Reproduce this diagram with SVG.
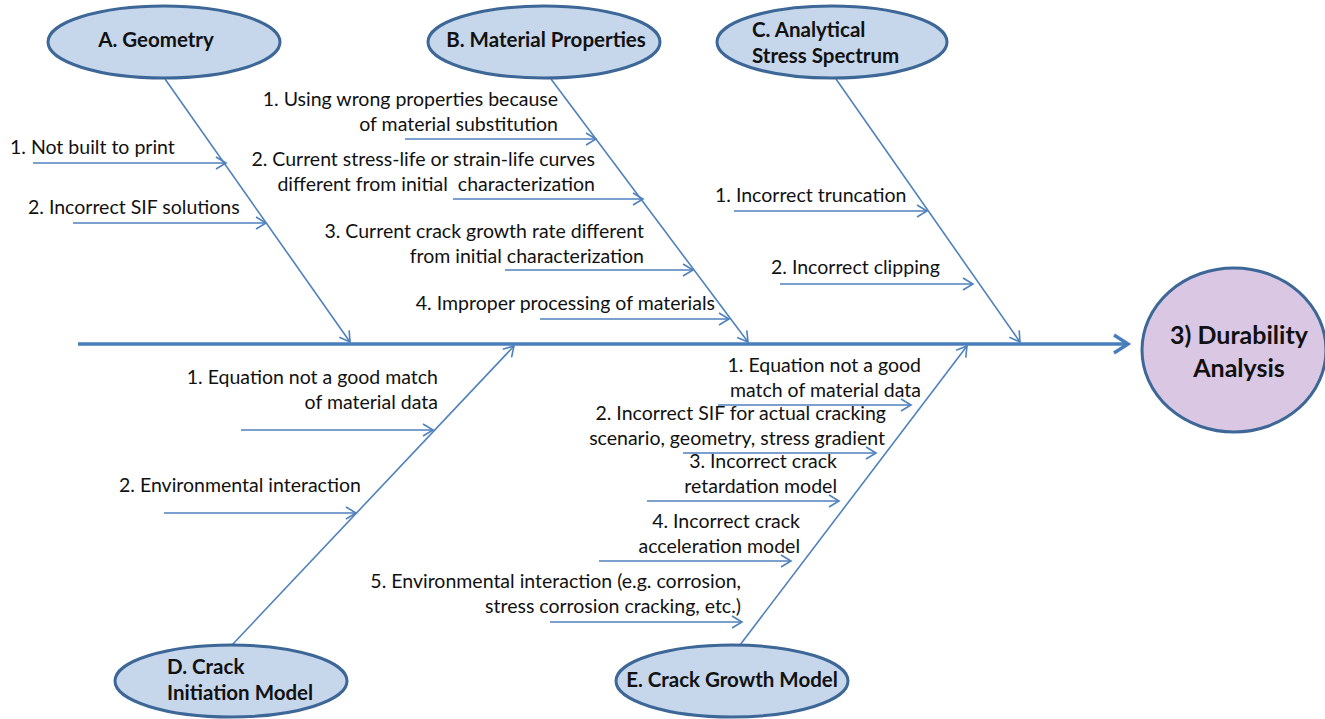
<svg xmlns="http://www.w3.org/2000/svg" width="1325" height="719" viewBox="0 0 1325 719">
<style>
.t{font-family:Lato,"Liberation Sans",sans-serif;font-size:19.5px;fill:#111}
.e{text-anchor:end}
.b{font-family:Lato,"Liberation Sans",sans-serif;font-size:20.5px;font-weight:bold;fill:#111}
.m{text-anchor:middle}
.node{fill:#c6d6eb;stroke:#3d6796;stroke-width:3}
.ln{stroke:#4f81bd;stroke-width:1.6;fill:none;marker-end:url(#ah)}
</style>
<defs>
<marker id="ah" viewBox="0 0 14 14" refX="12" refY="7" markerWidth="14" markerHeight="14" markerUnits="userSpaceOnUse" orient="auto">
<path d="M2,1 L12,7 L2,13" fill="none" stroke="#4f81bd" stroke-width="1.6"/>
</marker>
<marker id="big" viewBox="0 0 24 24" refX="20" refY="12" markerWidth="24" markerHeight="24" markerUnits="userSpaceOnUse" orient="auto">
<path d="M6,3 L20,12 L6,21" fill="none" stroke="#4a7ebb" stroke-width="3.5"/>
</marker>
</defs>
<rect width="1325" height="719" fill="#fff"/>
<g id="connectors">
<line x1="78" y1="344" x2="1128" y2="344" stroke="#4a7ebb" stroke-width="3.5" marker-end="url(#big)"/>
<line class="ln" x1="165" y1="79" x2="350" y2="342"/>
<line class="ln" x1="33" y1="163" x2="226" y2="163"/>
<line class="ln" x1="73" y1="223" x2="266" y2="223"/>
<line class="ln" x1="551" y1="79" x2="748" y2="342"/>
<line class="ln" x1="405" y1="139" x2="596" y2="139"/>
<line class="ln" x1="453" y1="199" x2="643" y2="199"/>
<line class="ln" x1="505" y1="270" x2="693" y2="270"/>
<line class="ln" x1="540" y1="319" x2="729" y2="319"/>
<line class="ln" x1="836" y1="79" x2="1020" y2="342"/>
<line class="ln" x1="734" y1="211" x2="927" y2="211"/>
<line class="ln" x1="780" y1="284" x2="973" y2="284"/>
<line class="ln" x1="232" y1="645" x2="514" y2="346"/>
<line class="ln" x1="241" y1="430" x2="433" y2="430"/>
<line class="ln" x1="164" y1="513" x2="356" y2="513"/>
<line class="ln" x1="740" y1="645" x2="967" y2="346"/>
<line class="ln" x1="718" y1="405" x2="911" y2="405"/>
<line class="ln" x1="683" y1="453" x2="876" y2="453"/>
<line class="ln" x1="647" y1="501" x2="839" y2="501"/>
<line class="ln" x1="599" y1="561" x2="791" y2="561"/>
<line class="ln" x1="550" y1="622" x2="742" y2="622"/>
</g>
<g id="labels">
<text class="t" x="10" y="154">1. Not built to print</text>
<text class="t" x="28" y="214">2. Incorrect SIF solutions</text>
<text class="t e" x="558" y="106">1. Using wrong properties because</text>
<text class="t e" x="558" y="131">of material substitution</text>
<text class="t e" x="595" y="166">2. Current stress-life or strain-life curves</text>
<text class="t e" x="595" y="191" xml:space="preserve">different from initial  characterization</text>
<text class="t e" x="644" y="238">3. Current crack growth rate different</text>
<text class="t e" x="644" y="263">from initial characterization</text>
<text class="t e" x="715" y="310">4. Improper processing of materials</text>
<text class="t" x="715" y="202">1. Incorrect truncation</text>
<text class="t" x="771" y="274">2. Incorrect clipping</text>
<text class="t e" x="438" y="384">1. Equation not a good match</text>
<text class="t e" x="438" y="409">of material data</text>
<text class="t" x="119" y="492">2. Environmental interaction</text>
<text class="t e" x="921" y="372">1. Equation not a good</text>
<text class="t e" x="921" y="397">match of material data</text>
<text class="t e" x="886" y="420">2. Incorrect SIF for actual cracking</text>
<text class="t e" x="885" y="445">scenario, geometry, stress gradient</text>
<text class="t e" x="837" y="468">3. Incorrect crack</text>
<text class="t e" x="837" y="493">retardation model</text>
<text class="t e" x="800" y="528">4. Incorrect crack</text>
<text class="t e" x="800" y="553">acceleration model</text>
<text class="t e" x="741" y="588">5. Environmental interaction (e.g. corrosion,</text>
<text class="t e" x="741" y="613">stress corrosion cracking, etc.)</text>
</g>
<g id="nodeA">
<ellipse class="node" cx="164" cy="42" rx="116" ry="36"/>
<text class="b m" x="156" y="47">A. Geometry</text>
</g>
<g id="nodeB">
<ellipse class="node" cx="544" cy="42" rx="116" ry="36"/>
<text class="b m" x="546" y="47">B. Material Properties</text>
</g>
<g id="nodeC">
<ellipse class="node" cx="832" cy="42" rx="115" ry="36"/>
<text class="b" x="752" y="37">C. Analytical</text>
<text class="b" x="752" y="63">Stress Spectrum</text>
</g>
<g id="nodeD">
<ellipse class="node" cx="231" cy="681" rx="116" ry="36"/>
<text class="b" x="167" y="674">D. Crack</text>
<text class="b" x="167" y="700">Initiation Model</text>
</g>
<g id="nodeE">
<ellipse class="node" cx="732" cy="681" rx="116" ry="36"/>
<text class="b m" x="732" y="687">E. Crack Growth Model</text>
</g>
<g id="nodeOut">
<ellipse cx="1234" cy="350" rx="92" ry="82" fill="#d9c7e3" stroke="#3d6796" stroke-width="3"/>
<text class="b m" x="1239" y="344" style="font-size:25px">3) Durability</text>
<text class="b m" x="1239" y="377" style="font-size:25px">Analysis</text>
</g>
</svg>
